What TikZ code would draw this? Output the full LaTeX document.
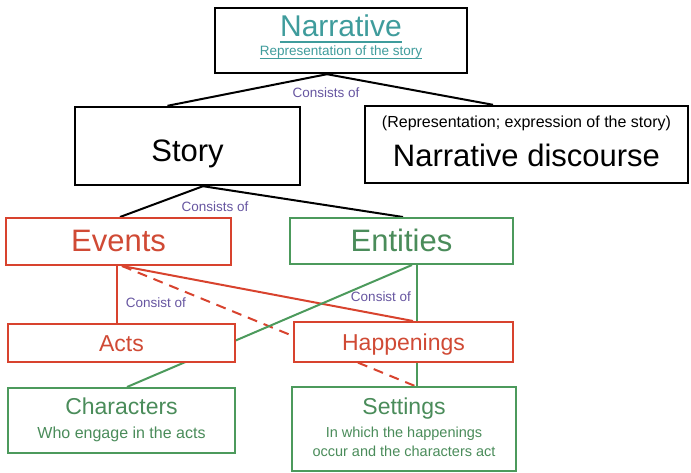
\documentclass[tikz,border=0pt]{standalone}
\usepackage{fontspec}
\setmainfont{Liberation Sans}
\usetikzlibrary{backgrounds}

\definecolor{narrteal}{HTML}{3F9C9C}
\definecolor{evred}{HTML}{D8432E}
\definecolor{evtext}{HTML}{D04A35}
\definecolor{entgreen}{HTML}{4C9A5C}
\definecolor{enttext}{HTML}{4A8C5A}
\definecolor{linkpurple}{HTML}{6655A0}

\newcommand{\fs}[1]{\fontsize{#1}{1.2\dimexpr#1pt\relax}\selectfont}

\begin{document}
\begin{tikzpicture}[x=1pt,y=-1pt,
  blackbox/.style={draw=black, line width=2.4pt, fill=white, inner sep=0pt},
  redbox/.style={draw=evred, line width=2pt, fill=white, inner sep=0pt},
  greenbox/.style={draw=entgreen, line width=2pt, fill=white, inner sep=0pt},
  blackline/.style={draw=black, line width=2pt},
  redline/.style={draw=evred, line width=2pt},
  greenline/.style={draw=entgreen, line width=2pt},
  txt/.style={inner sep=0pt, anchor=base},
  linklabel/.style={inner sep=0pt, text=linkpurple, font=\fs{13.5}}]

\useasboundingbox (0,0) rectangle (691,473);

% ---- boxes ----
\node[blackbox, minimum width=252, minimum height=65] (narr) at (341,40.5) {};
\node[blackbox, minimum width=225, minimum height=78] (story) at (187.5,146) {};
\node[blackbox, minimum width=323, minimum height=77] (disc) at (526.5,144.5) {};
\node[redbox, minimum width=225, minimum height=47] (ev) at (118.5,241.5) {};
\node[greenbox, minimum width=223, minimum height=46] (ent) at (401.5,241) {};
\node[redbox, minimum width=227, minimum height=38] (acts) at (121.5,343) {};
\node[redbox, minimum width=219, minimum height=40] (happ) at (403.5,342) {};
\node[greenbox, minimum width=227, minimum height=65] (chars) at (121.5,420.5) {};
\node[greenbox, minimum width=224, minimum height=84] (sets) at (404,429) {};

% ---- box texts ----
\node[txt, text=narrteal, font=\fs{30}] (narrT) at (341,37) {Narrative};
\node[txt, text=narrteal, font=\fs{13.5}] (narrS) at (341,56) {Representation of the story};
\draw[narrteal, line width=1.6pt] ([yshift=-5]narrT.base west) -- ([yshift=-5]narrT.base east);
\draw[narrteal, line width=0.8pt] ([yshift=-2.5]narrS.base west) -- ([yshift=-2.5]narrS.base east);

\node[txt, font=\fs{31}] (storyT) at (187.5,162) {Story};
\node[txt, font=\fs{16}] (discS) at (526.5,128) {(Representation; expression of the story)};
\node[txt, font=\fs{31}] (discT) at (526.5,167) {Narrative discourse};

\node[txt, text=evtext, font=\fs{31}] (evT) at (118.5,252) {Events};
\node[txt, text=enttext, font=\fs{31}] (entT) at (401.5,252) {Entities};
\node[txt, text=evtext, font=\fs{23}] (actsT) at (121.5,351) {Acts};
\node[txt, text=evtext, font=\fs{23}] (happT) at (403.5,350) {Happenings};
\node[txt, text=enttext, font=\fs{23}] (charsT) at (121.5,414) {Characters};
\node[txt, text=enttext, font=\fs{16}] (charsS) at (121.5,438) {Who engage in the acts};
\node[txt, text=enttext, font=\fs{23}] (setsT) at (404,414) {Settings};
\node[txt, text=enttext, font=\fs{14.5}] (setsS1) at (404,437) {In which the happenings};
\node[txt, text=enttext, font=\fs{14.5}] (setsS2) at (404,456) {occur and the characters act};

% ---- link labels ----
\node[linklabel] (l1) at (326,93) {Consists of};
\node[linklabel] (l2) at (215,207) {Consists of};
\node[linklabel] (l3) at (156,303) {Consist of};
\node[linklabel] (l4) at (381,297) {Consist of};

% ---- connectors, drawn behind the boxes ----
\begin{scope}[on background layer]
  \draw[blackline] ([xshift=-14]narr.south) -- ([xshift=-20]story.north);
  \draw[blackline] ([xshift=-14]narr.south) -- ([xshift=-33.5]disc.north);
  \draw[blackline] ([xshift=15.5]story.south) -- ([xshift=1.5]ev.north);
  \draw[blackline] ([xshift=15.5]story.south) -- ([xshift=1.5]ent.north);
  \draw[redline] ([xshift=-1.5]ev.south) -- ([xshift=-1.5]ev.south |- acts.north);
  \draw[redline] ([xshift=3.5]ev.south) -- ([xshift=9.5]happ.north);
  \draw[redline, dash pattern=on 10pt off 7pt] ([xshift=3.5]ev.south) -- ([xshift=11]sets.north);
  \draw[greenline] ([xshift=10.5]ent.south) -- ([xshift=5.5]chars.north);
  \draw[greenline] ([xshift=15.5]ent.south) -- ([xshift=15.5]ent.south |- sets.north);
\end{scope}
\end{tikzpicture}
\end{document}
